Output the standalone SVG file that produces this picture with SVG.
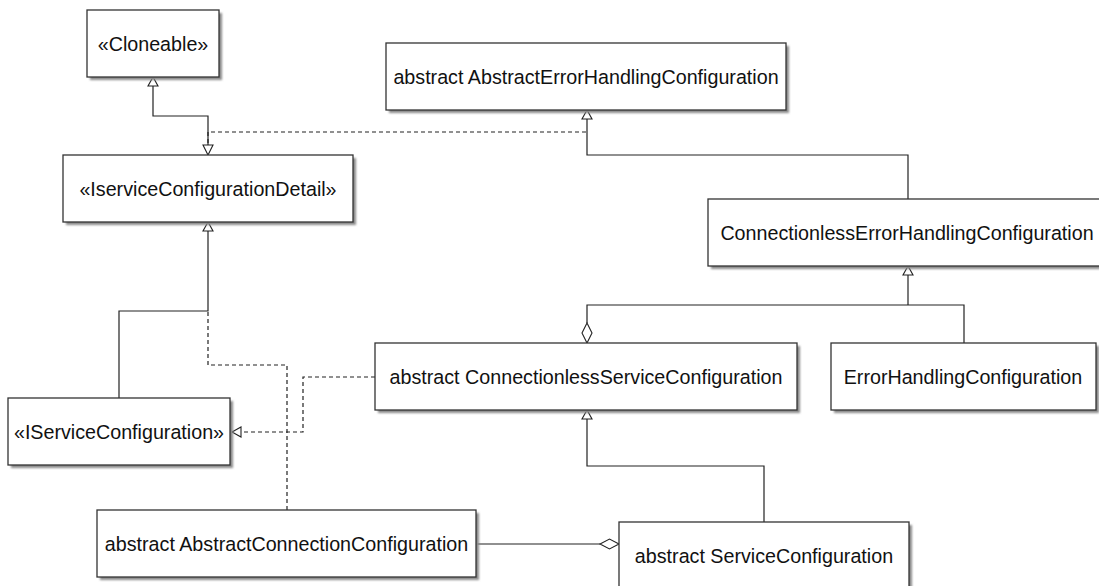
<svg xmlns="http://www.w3.org/2000/svg" width="1099" height="586" viewBox="0 0 1099 586">
<defs>
<filter id="sh" x="-5%" y="-10%" width="115%" height="130%"><feGaussianBlur stdDeviation="1"/></filter>
<style>
.box{fill:#fff;stroke:#333;stroke-width:1.3}
.shd{fill:#8a8a8a;filter:url(#sh)}
.lbl{font-family:"Liberation Sans",Arial,sans-serif;font-size:19.7px;fill:#111;text-anchor:middle}
.ln{fill:none;stroke:#222;stroke-width:1.2}
.dash{fill:none;stroke:#222;stroke-width:1.2;stroke-dasharray:4,3}
.head{fill:#fff;stroke:#222;stroke-width:1.1}
</style>
</defs>
<rect width="1099" height="586" fill="#fff"/>
<g id="connectors">
<polyline class="ln" points="208,145 208,116 153,116 153,86"/>
<polyline class="dash" points="586,132 208,132 208,145"/>
<polyline class="ln" points="908,199 908,155 587,155 587,119"/>
<polyline class="ln" points="587,323 587,305 964,305 964,343"/>
<polyline class="ln" points="908,275 908,305"/>
<polyline class="dash" points="375,377 303,377 303,432 241,432"/>
<polyline class="ln" points="119,398 119,311 208,311 208,231"/>
<polyline class="dash" points="287,510 287,365 208,365 208,311"/>
<polyline class="ln" points="764,522 764,466 587,466 587,419"/>
<polyline class="ln" points="476,544 600,544"/>
<polygon class="head" points="153,77 148,86 158,86"/>
<polygon class="head" points="208,155 203,145 213,145"/>
<polygon class="head" points="587,110 582,119 592,119"/>
<polygon class="head" points="908,266 903,275 913,275"/>
<polygon class="head" points="587,343 582,333 587,323 592,333"/>
<polygon class="head" points="232,432 241,427 241,437"/>
<polygon class="head" points="208,222 203,231 213,231"/>
<polygon class="head" points="587,410 582,419 592,419"/>
<polygon class="head" points="619,544 609.5,539 600,544 609.5,549"/>
</g>
<g id="cloneable">
<rect class="shd" x="90" y="13" width="132" height="67"/>
<rect class="box" x="87" y="10" width="132" height="67"/>
<text class="lbl" x="153" y="50.5">«Cloneable»</text>
</g>
<g id="abstractErrorHandling">
<rect class="shd" x="389" y="46" width="400" height="67"/>
<rect class="box" x="386" y="43" width="400" height="67"/>
<text class="lbl" x="586" y="83.5">abstract AbstractErrorHandlingConfiguration</text>
</g>
<g id="iserviceConfigurationDetail">
<rect class="shd" x="66" y="158" width="290" height="67"/>
<rect class="box" x="63" y="155" width="290" height="67"/>
<text class="lbl" x="208" y="195.5">«IserviceConfigurationDetail»</text>
</g>
<g id="connectionlessErrorHandling">
<rect class="shd" x="711" y="202" width="398" height="67"/>
<rect class="box" x="708" y="199" width="398" height="67"/>
<text class="lbl" x="907" y="239.5">ConnectionlessErrorHandlingConfiguration</text>
</g>
<g id="connectionlessService">
<rect class="shd" x="378" y="346" width="422" height="67"/>
<rect class="box" x="375" y="343" width="422" height="67"/>
<text class="lbl" x="586" y="383.5">abstract ConnectionlessServiceConfiguration</text>
</g>
<g id="errorHandling">
<rect class="shd" x="834" y="346" width="265" height="67"/>
<rect class="box" x="831" y="343" width="265" height="67"/>
<text class="lbl" x="963" y="383.5">ErrorHandlingConfiguration</text>
</g>
<g id="iserviceConfiguration">
<rect class="shd" x="11" y="401" width="222" height="67"/>
<rect class="box" x="8" y="398" width="222" height="67"/>
<text class="lbl" x="119" y="438.5">«IServiceConfiguration»</text>
</g>
<g id="abstractConnection">
<rect class="shd" x="100" y="513" width="379" height="67"/>
<rect class="box" x="97" y="510" width="379" height="67"/>
<text class="lbl" x="286.5" y="550.5">abstract AbstractConnectionConfiguration</text>
</g>
<g id="serviceConfiguration">
<rect class="shd" x="622" y="525" width="290" height="67"/>
<rect class="box" x="619" y="522" width="290" height="67"/>
<text class="lbl" x="764" y="562.5">abstract ServiceConfiguration</text>
</g>
</svg>
